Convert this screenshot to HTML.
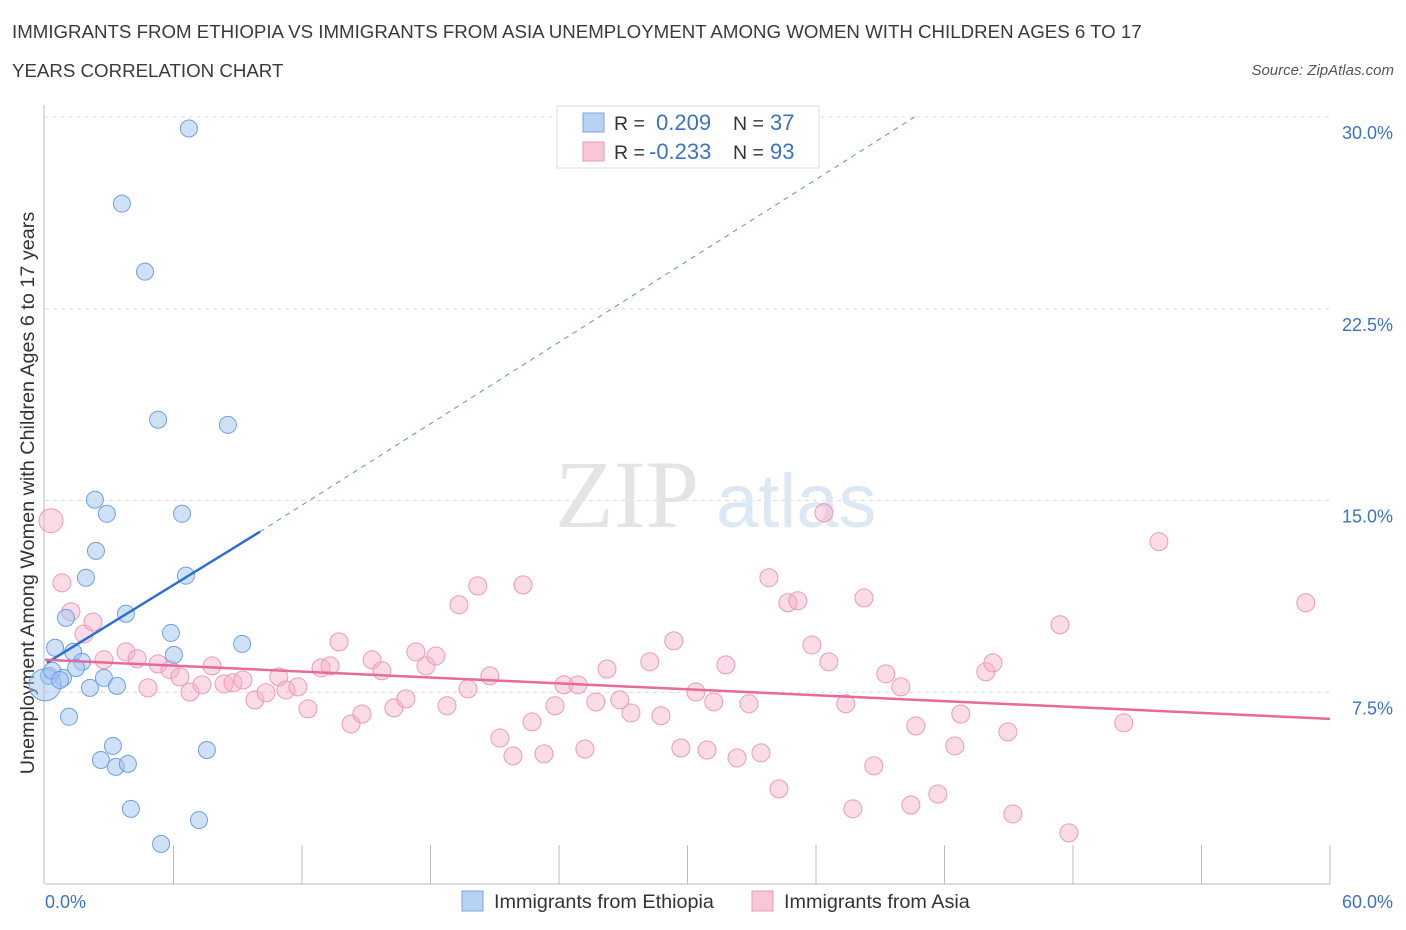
<!DOCTYPE html>
<html><head><meta charset="utf-8"><style>
body{margin:0;background:#fff;font-family:"Liberation Sans",sans-serif;}
.t{position:absolute;left:12px;color:#3a3a3a;font-size:18.7px;}
</style></head><body>
<div style="position:relative;width:1406px;height:930px;overflow:hidden">
<div class="t" style="top:21px">IMMIGRANTS FROM ETHIOPIA VS IMMIGRANTS FROM ASIA UNEMPLOYMENT AMONG WOMEN WITH CHILDREN AGES 6 TO 17</div>
<div class="t" style="top:60px">YEARS CORRELATION CHART</div>
<div style="position:absolute;right:12px;top:62px;font-size:15px;font-style:italic;color:#555">Source: ZipAtlas.com</div>
<svg id="svg" width="1406" height="930" style="position:absolute;left:0;top:0"></svg>
</div>
<script>
const ethX=[6.72,3.59,4.67,5.28,8.54,2.33,2.89,6.40,2.38,1.91,6.58,3.78,0.98,5.88,9.20,0.47,6.02,1.31,1.73,1.45,0.84,0.19,2.10,2.75,3.36,0.0,1.12,7.56,3.17,2.61,3.31,3.87,4.01,7.19,5.42,0.33,0.70];
const ethY=[29.55,26.61,23.95,18.16,17.96,15.03,14.48,14.48,13.03,11.98,12.06,10.57,10.41,9.82,9.39,9.24,8.96,9.08,8.69,8.45,8.06,8.14,7.67,8.06,7.75,7.79,6.54,5.24,5.40,4.85,4.58,4.70,2.94,2.50,1.57,8.34,7.98];
const asiaX=[0.28,0.79,1.21,1.82,2.24,2.75,3.78,4.30,4.81,5.28,5.84,6.30,6.77,7.33,7.80,8.36,8.78,9.24,9.80,10.32,10.92,11.25,11.81,12.28,12.89,13.31,13.73,14.29,14.80,15.27,15.73,16.29,16.85,17.32,17.79,18.25,18.77,19.33,19.75,20.21,20.77,21.24,21.85,22.32,22.74,23.30,23.81,24.23,24.88,25.21,25.72,26.24,26.84,27.36,28.24,28.76,29.36,29.69,30.39,30.91,31.23,31.79,32.31,32.87,33.43,33.80,34.27,34.69,35.15,35.81,36.37,36.60,37.39,37.72,38.24,38.70,39.26,39.96,40.43,40.66,41.69,42.48,42.76,43.93,44.26,44.96,45.19,47.39,47.81,50.37,52.01,58.87];
const asiaY=[14.21,11.78,10.65,9.78,10.25,8.77,9.08,8.81,7.67,8.61,8.38,8.10,7.51,7.79,8.53,7.83,7.87,7.98,7.20,7.48,8.10,7.59,7.71,6.85,8.45,8.53,9.47,6.26,6.65,8.77,8.34,6.89,7.24,9.08,8.53,8.92,6.97,10.92,7.63,11.66,8.14,5.71,5.01,11.70,6.34,5.09,6.97,7.79,7.79,5.28,7.12,8.41,7.20,6.69,8.69,6.58,9.51,5.32,7.51,5.24,7.12,8.57,4.93,7.05,5.13,11.98,3.72,11.00,11.08,9.35,14.52,8.69,7.05,2.94,11.19,4.62,8.22,7.71,3.09,6.18,3.52,5.40,6.65,8.30,8.65,5.95,2.74,10.14,2.00,6.30,13.39,11.00];
const yTicks=[7.5,15,22.5,30];
const yTickLabels=["7.5%","15.0%","22.5%","30.0%"];
const xTickVals=[6,12,18,24,30,36,42,48,54,60];
const ethTrend=[[0.09,8.65],[10.04,13.78]];
const ethTrendExt=[[10.04,13.78],[40.6,30.0]];
const asiaTrend=[[0,8.77],[60,6.46]];

const NS="http://www.w3.org/2000/svg";
const svg=document.getElementById('svg');
const X=v=>45+v*(1285/60);
const Y=v=>884-v*(767/30);
function mk(tag,a){const e=document.createElementNS(NS,tag);for(const k in a)e.setAttribute(k,a[k]);svg.appendChild(e);return e;}
function txt(x,y,s,a){const e=mk('text',a);e.setAttribute('x',x);e.setAttribute('y',y);e.textContent=s;return e;}

yTicks.forEach((v,i)=>{
 const g=mk('line',{x1:45,x2:1330,y1:Y(v),y2:Y(v),stroke:'#dcdcdc','stroke-dasharray':'4,4'});
 
 
 const t=txt(1393,Y(v)+22,yTickLabels[i],{'text-anchor':'end','font-size':18,fill:'#3a73c4','font-family':'Liberation Sans'});
 
 
});
const ax=mk('line',{x1:45,x2:1330,y1:884,y2:884,stroke:'#bbb'});


const ay=mk('line',{x1:44,x2:44,y1:105,y2:884,stroke:'#bbb'});


xTickVals.forEach(v=>{
 const l=mk('line',{x1:X(v),x2:X(v),y1:845,y2:884,stroke:'#bbb'});
 
 
});
let t=txt(45,908,'0.0%',{'font-size':18,fill:'#3a73c4'});


t=txt(1393,908,'60.0%',{'font-size':18,fill:'#3a73c4','text-anchor':'end'});


t=txt(0,0,'Unemployment Among Women with Children Ages 6 to 17 years',{'font-size':19.8,fill:'#333','text-anchor':'middle',transform:'translate(34,493) rotate(-90)'});


t=txt(555,527,'ZIP',{'font-size':96,fill:'#e4e4e4','font-family':'Liberation Serif'});


t=txt(716,527,'atlas',{'font-size':76,fill:'#dde8f5'});



asiaX.forEach((x,i)=>{
 const r=(i===0)?12:9;
 const c=mk('circle',{cx:X(x),cy:Y(asiaY[i]),r:r,fill:'rgba(246,176,199,0.45)',stroke:'#eb9bb6','stroke-width':1});
 
 
});
ethX.forEach((x,i)=>{
 const r=(i===25)?16:8.5;
 const c=mk('circle',{cx:X(x),cy:Y(ethY[i]),r:r,fill:'rgba(160,196,240,0.5)',stroke:'#6fa0e0','stroke-width':1});
 
 
});
let l=mk('line',{x1:X(ethTrendExt[0][0]),y1:Y(ethTrendExt[0][1]),x2:X(ethTrendExt[1][0]),y2:Y(ethTrendExt[1][1]),stroke:'#5b8fd8','stroke-width':1,'stroke-dasharray':'5,5'});


l=mk('line',{x1:X(ethTrend[0][0]),y1:Y(ethTrend[0][1]),x2:X(ethTrend[1][0]),y2:Y(ethTrend[1][1]),stroke:'#2a6fd6','stroke-width':2.5});


l=mk('line',{x1:X(asiaTrend[0][0]),y1:Y(asiaTrend[0][1]),x2:X(asiaTrend[1][0]),y2:Y(asiaTrend[1][1]),stroke:'#e8699a','stroke-width':2.5});



let b=mk('rect',{x:557,y:106,width:262,height:62,fill:'#fff',stroke:'#ddd'});


b=mk('rect',{x:583,y:113,width:21,height:19,fill:'#b8d2f4',stroke:'#7aa6e2'});


b=mk('rect',{x:583,y:142,width:21,height:19,fill:'#f9c6d6',stroke:'#eb9bb6'});


[[130,'0.209','37',656],[159,'-0.233','93',649]].forEach(r=>{
 let a=txt(614,r[0],'R =',{'font-size':19.5,fill:'#333'});
 
 
 a=txt(r[3],r[0],r[1],{'font-size':22,fill:'#3a73c4'});
 
 
 a=txt(733,r[0],'N =',{'font-size':19.5,fill:'#333'});
 
 
 a=txt(770,r[0],r[2],{'font-size':22,fill:'#3a73c4'});
 
 
});
b=mk('rect',{x:462,y:891,width:21,height:20,fill:'#b8d2f4',stroke:'#7aa6e2'});


t=txt(494,908,'Immigrants from Ethiopia',{'font-size':19.8,fill:'#333'});


b=mk('rect',{x:752,y:891,width:21,height:20,fill:'#f9c6d6',stroke:'#eb9bb6'});


t=txt(784,908,'Immigrants from Asia',{'font-size':19.8,fill:'#333'});


</script>
</body></html>
